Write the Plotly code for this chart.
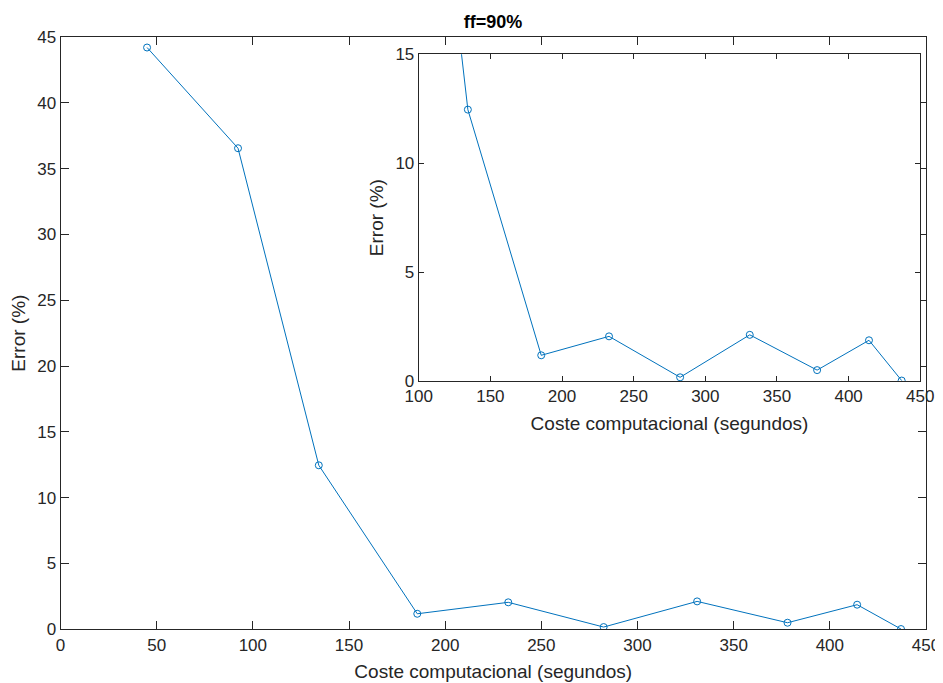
import plotly.graph_objects as go

cost_s = [45.0, 92.3, 134.3, 185.5, 232.8, 282.4, 331.0, 378.0, 414.2, 437.0]
error_pct = [44.2, 36.55, 12.46, 1.18, 2.05, 0.17, 2.12, 0.5, 1.87, 0.02]

main_xticks = [0, 50, 100, 150, 200, 250, 300, 350, 400, 450]
main_yticks = [0, 5, 10, 15, 20, 25, 30, 35, 40, 45]
inset_xticks = [100, 150, 200, 250, 300, 350, 400, 450]
inset_yticks = [0, 5, 10, 15]

W, H = 943, 683
OX, OY = 8, 8  # page body margin offset
BLUE = "#0072BD"
AX = "#262626"
FONT = "Liberation Sans, Arial, sans-serif"

def xdom(a, b):
    return [(a - OX) / W, (b - OX) / W]

def ydom(bottom, top):
    return [1 - (bottom - OY) / H, 1 - (top - OY) / H]

trace_style = dict(
    mode="lines+markers",
    line=dict(color=BLUE, width=1),
    marker=dict(symbol="circle-open", size=7, color=BLUE, line=dict(width=1, color=BLUE)),
    hoverinfo="x+y",
    showlegend=False,
)

fig = go.Figure()
fig.add_trace(go.Scatter(x=cost_s, y=error_pct, xaxis="x", yaxis="y", **trace_style))
fig.add_trace(go.Scatter(x=cost_s, y=error_pct, xaxis="x2", yaxis="y2", **trace_style))

axis_common = dict(
    showline=True, linecolor=AX, linewidth=1, mirror="ticks",
    ticks="inside", tickcolor=AX, tickwidth=1,
    showgrid=False, zeroline=False, automargin=False,
    tickfont=dict(family=FONT, size=17, color=AX),
    title_font=dict(family=FONT, size=19, color=AX),
)

fig.update_layout(
    width=W, height=H,
    margin=dict(l=0, r=0, t=0, b=0, autoexpand=False),
    paper_bgcolor="white", plot_bgcolor="white",
    title=dict(text="<b>ff=90%</b>", x=(493 - OX) / W, xanchor="center", y=1 - (22 - OY) / H, yanchor="middle",
               font=dict(family=FONT, size=18, color="black")),
    xaxis=dict(domain=xdom(60.5, 926), range=[0, 450], tickvals=main_xticks, ticklen=8,
               title=dict(text="Coste computacional (segundos)", standoff=10), anchor="y", **axis_common),
    yaxis=dict(domain=ydom(629.3, 37), range=[0, 45], tickvals=main_yticks, ticklen=8,
               title=dict(text="Error (%)", standoff=6), anchor="x", **axis_common),
    xaxis2=dict(domain=xdom(418.7, 920.3), range=[100, 450], tickvals=inset_xticks, ticklen=5,
                title=dict(text="Coste computacional (segundos)", standoff=11), anchor="y2", **axis_common),
    yaxis2=dict(domain=ydom(381, 54.3), range=[0, 15], tickvals=inset_yticks, ticklen=5,
                title=dict(text="Error (%)", standoff=6), anchor="x2", **axis_common),
)

fig.write_html("out.html")
